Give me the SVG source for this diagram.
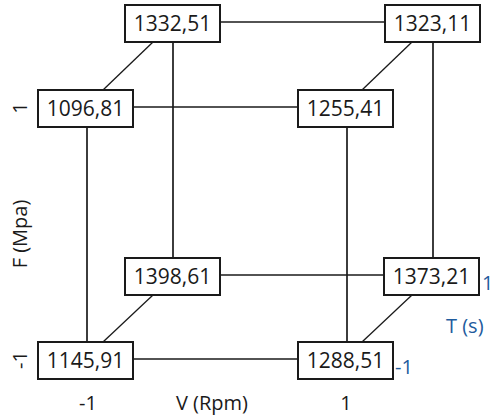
<svg xmlns="http://www.w3.org/2000/svg" width="494" height="418" viewBox="0 0 494 418">
<style>
.box{fill:#fff;stroke:#1a1a1a;stroke-width:2}
.num{font-family:"Open Sans","DejaVu Sans",sans-serif;font-size:21px;fill:#1a1a1a;text-anchor:middle}
.ax{font-family:"Open Sans","DejaVu Sans",sans-serif;font-size:20px;fill:#1a1a1a;text-anchor:middle}
.bl{font-family:"Open Sans","DejaVu Sans",sans-serif;font-size:20px;fill:#1f5c9e}
.ln{stroke:#1a1a1a;stroke-width:1.7;fill:none}
.dg{stroke:#1a1a1a;stroke-width:1.3;fill:none}
</style>
<rect width="494" height="418" fill="#fff"/>
<g id="connectors">
<line class="ln" x1="220" y1="22" x2="385" y2="22"/>
<line class="ln" x1="133" y1="107" x2="298" y2="107"/>
<line class="ln" x1="220" y1="275" x2="384" y2="275"/>
<line class="ln" x1="133" y1="359" x2="298" y2="359"/>
<line class="ln" x1="173" y1="42" x2="173" y2="258"/>
<line class="ln" x1="87" y1="127" x2="87" y2="342"/>
<line class="ln" x1="433" y1="42" x2="433" y2="258"/>
<line class="ln" x1="347" y1="127" x2="347" y2="342"/>
<line class="dg" x1="153" y1="42" x2="103" y2="90"/>
<line class="dg" x1="412" y1="42" x2="362" y2="90"/>
<line class="dg" x1="153" y1="295" x2="103" y2="342"/>
<line class="dg" x1="412" y1="295" x2="362" y2="342"/>
</g>
<g id="n1332"><rect class="box" x="125" y="5" width="95" height="37"/><text class="num" x="172.5" y="31">1332,51</text></g>
<g id="n1323"><rect class="box" x="385" y="5" width="95" height="37"/><text class="num" x="432.5" y="31">1323,11</text></g>
<g id="n1096"><rect class="box" x="38" y="90" width="95" height="37"/><text class="num" x="85.5" y="116">1096,81</text></g>
<g id="n1255"><rect class="box" x="298" y="90" width="95" height="37"/><text class="num" x="345.5" y="116">1255,41</text></g>
<g id="n1398"><rect class="box" x="125" y="258" width="95" height="37"/><text class="num" x="172.5" y="284">1398,61</text></g>
<g id="n1373"><rect class="box" x="384" y="258" width="95" height="37"/><text class="num" x="431.5" y="284">1373,21</text></g>
<g id="n1145"><rect class="box" x="38" y="342" width="95" height="37"/><text class="num" x="85.5" y="368">1145,91</text></g>
<g id="n1288"><rect class="box" x="298" y="342" width="95" height="37"/><text class="num" x="345.5" y="368">1288,51</text></g>
<g id="axes">
<text class="ax" transform="translate(27,108) rotate(-90)">1</text>
<text class="ax" transform="translate(27,234) rotate(-90)">F (Mpa)</text>
<text class="ax" transform="translate(27,360) rotate(-90)">-1</text>
<text class="ax" x="88" y="410">-1</text>
<text class="ax" x="212" y="410">V (Rpm)</text>
<text class="ax" x="346" y="410">1</text>
<text class="bl" x="482" y="290">1</text>
<text class="bl" x="446" y="333">T (s)</text>
<text class="bl" x="395" y="374">-1</text>
</g>
</svg>
